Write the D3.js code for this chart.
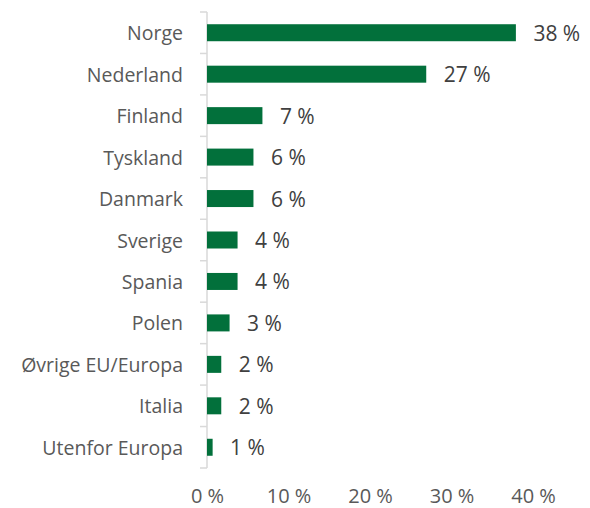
<!DOCTYPE html>
<html>
<head>
<meta charset="utf-8">
<script src="https://cdn.jsdelivr.net/npm/d3@7"></script>
<style>
  html, body { margin: 0; padding: 0; background: #ffffff; }
  svg { display: block; }
  text { font-family: "Open Sans", sans-serif; }
</style>
</head>
<body>
<svg id="chart" width="590" height="508"></svg>
<script>
const categories = ["Norge", "Nederland", "Finland", "Tyskland", "Danmark", "Sverige", "Spania", "Polen", "Øvrige EU/Europa", "Italia", "Utenfor Europa"];
const shares = [37.9, 26.9, 6.8, 5.7, 5.7, 3.75, 3.75, 2.77, 1.75, 1.75, 0.69];
const xTicks = [0, 10, 20, 30, 40];

(function () {
const svg = d3.select("#chart");
const axisX = 207, plotTop = 12, plotBottom = 468;

const x = d3.scaleLinear().domain([0, 40]).range([axisX, 533]);
const y = d3.scaleBand().domain(categories).range([plotTop, plotBottom]).paddingInner(0.59).paddingOuter(0.295);

const data = categories.map((c, i) => ({ cat: c, v: shares[i] }));

// vertical axis line
svg.append("line")
  .attr("x1", axisX).attr("x2", axisX)
  .attr("y1", plotTop).attr("y2", plotBottom)
  .attr("stroke", "#d9d9d9").attr("stroke-width", 1.5);

// category boundary ticks
const step = y.step();
const bounds = d3.range(categories.length + 1).map(i => plotTop + i * step);
svg.selectAll("line.ctick").data(bounds).enter().append("line")
  .attr("class", "ctick")
  .attr("x1", axisX - 7).attr("x2", axisX)
  .attr("y1", d => d).attr("y2", d => d)
  .attr("stroke", "#d9d9d9").attr("stroke-width", 1.5);

// bars
svg.selectAll("rect.bar").data(data).enter().append("rect")
  .attr("class", "bar")
  .attr("x", x(0))
  .attr("y", d => y(d.cat))
  .attr("width", d => x(d.v) - x(0))
  .attr("height", y.bandwidth())
  .attr("fill", "#02703b");

// value labels
svg.selectAll("text.val").data(data).enter().append("text")
  .attr("class", "val")
  .attr("x", d => x(d.v) + 17.5)
  .attr("y", d => y(d.cat) + y.bandwidth() / 2)
  .attr("dominant-baseline", "central")
  .attr("font-size", 21)
  .attr("fill", "#404040")
  .text(d => Math.round(d.v) + " %");

// category labels
svg.selectAll("text.cat").data(data).enter().append("text")
  .attr("class", "cat")
  .attr("x", 183)
  .attr("y", d => y(d.cat) + y.bandwidth() / 2)
  .attr("text-anchor", "end")
  .attr("dominant-baseline", "central")
  .attr("font-size", 19.5)
  .attr("fill", "#595959")
  .text(d => d.cat);

// x axis (labels only)
const xAxis = d3.axisBottom(x).tickValues(xTicks).tickSize(0).tickPadding(0).tickFormat(d => d + " %");
const gx = svg.append("g").attr("transform", "translate(0,495)").call(xAxis);
gx.select(".domain").remove();
gx.selectAll("text")
  .attr("dy", null)
  .attr("y", 0)
  .attr("dominant-baseline", "central")
  .attr("font-size", 20)
  .attr("font-family", "Open Sans, sans-serif")
  .attr("fill", "#595959");
})();
</script>
</body>
</html>
